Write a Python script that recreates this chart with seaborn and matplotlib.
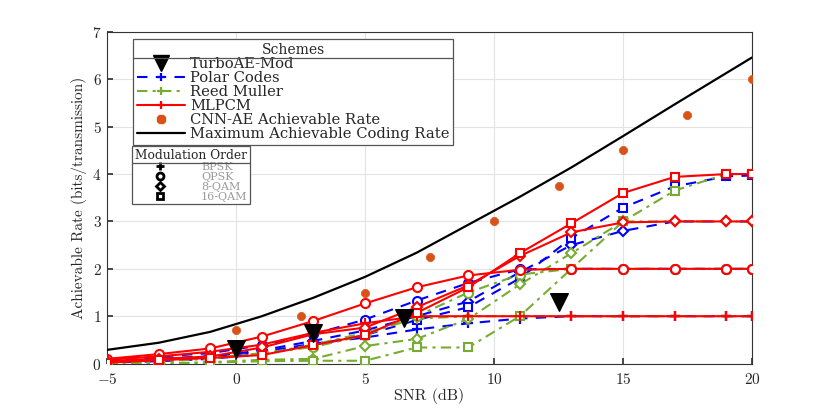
import numpy as np
import pandas as pd
import matplotlib
matplotlib.use("Agg")
import matplotlib.pyplot as plt
import seaborn as sns
from matplotlib.lines import Line2D

# ---------------- data ----------------
snr = [-5, -3, -1, 1, 3, 5, 7, 9, 11, 13, 15, 17, 19, 20]

polar_bpsk = [0.05, 0.10, 0.15, 0.25, 0.42, 0.55, 0.72, 0.85, 0.95, 1.0, 1.0, 1.0, 1.0, 1.0]
polar_qpsk = [0.08, 0.15, 0.22, 0.39, 0.62, 0.93, 1.33, 1.70, 1.99, 2.0, 2.0, 2.0, 2.0, 2.0]
polar_8qam = [0.05, 0.10, 0.15, 0.28, 0.48, 0.70, 1.00, 1.31, 1.93, 2.50, 2.80, 3.0, 3.0, 3.0]
polar_16qam = [0.02, 0.05, 0.10, 0.20, 0.40, 0.60, 0.92, 1.19, 1.80, 2.65, 3.29, 3.74, 3.95, 3.97]

rm_bpsk = [0.02, 0.05, 0.10, 0.20, 0.40, 0.65, 0.95, 1.0, 1.0, 1.0, 1.0, 1.0, 1.0, 1.0]
rm_qpsk = [0.02, 0.05, 0.12, 0.22, 0.35, 0.60, 1.00, 1.50, 1.88, 2.0, 2.0, 2.0, 2.0, 2.0]
rm_8qam = [0.0, 0.0, 0.03, 0.08, 0.10, 0.37, 0.52, 0.94, 1.67, 2.33, 3.0, 3.0, 3.0, 3.0]
rm_16qam = [0.0, 0.0, 0.02, 0.05, 0.06, 0.06, 0.34, 0.34, 1.0, 2.0, 3.0, 3.65, 4.0, 4.0]

mlpcm_bpsk = [0.08, 0.15, 0.25, 0.40, 0.65, 0.85, 1.0, 1.0, 1.0, 1.0, 1.0, 1.0, 1.0, 1.0]
mlpcm_qpsk = [0.10, 0.20, 0.32, 0.57, 0.90, 1.27, 1.61, 1.86, 1.98, 2.0, 2.0, 2.0, 2.0, 2.0]
mlpcm_8qam = [0.05, 0.10, 0.15, 0.34, 0.62, 0.76, 1.19, 1.65, 2.27, 2.77, 2.98, 3.0, 3.0, 3.0]
mlpcm_16qam = [0.02, 0.07, 0.12, 0.18, 0.39, 0.60, 1.07, 1.61, 2.33, 2.96, 3.60, 3.94, 4.0, 4.0]

turbo_snr = [0, 3, 6.5, 12.5]
turbo_rate = [0.30, 0.65, 0.97, 1.30]

cnn_snr = [0, 2.5, 5, 7.5, 10, 12.5, 15, 17.5, 20]
cnn_rate = [0.70, 1.00, 1.50, 2.25, 3.00, 3.75, 4.50, 5.25, 6.00]

max_snr = [-5, -3, -1, 1, 3, 5, 7, 9, 11, 13, 15, 17, 19, 20]
max_rate = [0.29, 0.44, 0.67, 1.00, 1.39, 1.83, 2.34, 2.93, 3.52, 4.14, 4.80, 5.47, 6.13, 6.46]

scheme_labels = ["TurboAE-Mod", "Polar Codes", "Reed Muller", "MLPCM",
                 "CNN-AE Achievable Rate", "Maximum Achievable Coding Rate"]
mod_labels = ["BPSK", "QPSK", "8-QAM", "16-QAM"]
x_ticks = [-5, 0, 5, 10, 15, 20]
y_ticks = [0, 1, 2, 3, 4, 5, 6, 7]

# ---------------- style ----------------
sns.set_theme(style="whitegrid")
plt.rcParams["font.family"] = ["cmr10", "DejaVu Serif"]
plt.rcParams["mathtext.fontset"] = "cm"
plt.rcParams["axes.formatter.use_mathtext"] = True

BLUE = "#0000FF"
GREEN = "#77AC30"
RED = "#FF0000"
ORANGE = "#D95319"

fig = plt.figure(figsize=(8.3, 4.09), dpi=100)
ax = fig.add_axes([0.129, 0.111, 0.777, 0.811])

mods = [("+", 7, 1.6), ("o", 6.5, 1.5), ("D", 5.5, 1.5), ("s", 5.5, 1.5)]
schemes = [
    (BLUE, (0, (5, 4)), [polar_bpsk, polar_qpsk, polar_8qam, polar_16qam]),
    (GREEN, (0, (5, 2.5, 1.5, 2.5)), [rm_bpsk, rm_qpsk, rm_8qam, rm_16qam]),
    (RED, "-", [mlpcm_bpsk, mlpcm_qpsk, mlpcm_8qam, mlpcm_16qam]),
]
for color, ls, series in schemes:
    for (mk, ms, mew), vals in zip(mods, series):
        df = pd.DataFrame({"snr": snr, "rate": vals})
        sns.lineplot(data=df, x="snr", y="rate", ax=ax, color=color,
                     linestyle=ls, linewidth=1.5, marker=mk, markersize=ms,
                     markerfacecolor="white", markeredgecolor=color,
                     markeredgewidth=mew, legend=False, zorder=3)

df_max = pd.DataFrame({"snr": max_snr, "rate": max_rate})
sns.lineplot(data=df_max, x="snr", y="rate", ax=ax, color="black",
             linewidth=1.6, legend=False, zorder=4)

df_cnn = pd.DataFrame({"snr": cnn_snr, "rate": cnn_rate})
sns.scatterplot(data=df_cnn, x="snr", y="rate", ax=ax, color=ORANGE,
                marker="8", s=34, edgecolor=ORANGE, linewidth=0.8, zorder=5,
                legend=False)

df_turbo = pd.DataFrame({"snr": turbo_snr, "rate": turbo_rate})
sns.scatterplot(data=df_turbo, x="snr", y="rate", ax=ax, color="black",
                marker="v", s=160, edgecolor="black", zorder=6, legend=False)

ax.set_xlim(-5, 20)
ax.set_ylim(0, 7)
ax.set_xticks(x_ticks)
ax.set_yticks(y_ticks)
ax.set_xlabel("SNR (dB)", fontsize=11.5, labelpad=1)
ax.set_ylabel("Achievable Rate (bits/transmission)", fontsize=11, labelpad=4)
ax.tick_params(axis="both", labelsize=11, direction="in", length=4,
               color="#333333", left=True, bottom=True)
ax.tick_params(axis="x", pad=6)
ax.tick_params(axis="y", pad=4)
ax.grid(True, color="#E3E3E3", linewidth=0.8)
for sp in ax.spines.values():
    sp.set_color("#333333")
    sp.set_linewidth(0.8)
ax.set_facecolor("white")

# ---------------- legends ----------------
LEGFONT = "DejaVu Serif"
h_scheme = [
    Line2D([], [], color="black", marker="v", linestyle="none", markersize=12),
    Line2D([], [], color=BLUE, linestyle=(0, (5, 4)), marker="+", markersize=6,
           markeredgewidth=1.6, linewidth=1.5),
    Line2D([], [], color=GREEN, linestyle=(0, (5, 2.5, 1.5, 2.5)), marker="+",
           markersize=6, markeredgewidth=1.6, linewidth=1.5),
    Line2D([], [], color=RED, linestyle="-", marker="+", markersize=6,
           markeredgewidth=1.6, linewidth=1.5),
    Line2D([], [], color=ORANGE, marker="8", linestyle="none", markersize=7),
    Line2D([], [], color="black", linewidth=1.6),
]
leg1 = ax.legend(h_scheme, scheme_labels, title="Schemes", loc="upper left",
                 bbox_to_anchor=(0.040, 0.978),
                 prop={"family": LEGFONT, "size": 10.6},
                 frameon=True, fancybox=False, edgecolor="#555555",
                 framealpha=1, handlelength=3.3, handletextpad=0.35,
                 labelspacing=0.0, borderpad=0.25, borderaxespad=0)
leg1.get_title().set_fontfamily(LEGFONT)
leg1.get_title().set_fontsize(10)
leg1.get_frame().set_linewidth(0.9)
ax.add_artist(leg1)

h_mod = [
    Line2D([], [], color="black", marker="+", linestyle="none", markersize=6,
           markeredgewidth=2),
    Line2D([], [], color="black", marker="o", linestyle="none", markersize=5,
           markerfacecolor="white", markeredgewidth=2),
    Line2D([], [], color="black", marker="D", linestyle="none", markersize=4.5,
           markerfacecolor="white", markeredgewidth=2),
    Line2D([], [], color="black", marker="s", linestyle="none", markersize=4.5,
           markerfacecolor="white", markeredgewidth=2),
]
leg2 = ax.legend(h_mod, mod_labels, title="Modulation Order", loc="upper left",
                 bbox_to_anchor=(0.039, 0.655),
                 prop={"family": LEGFONT, "size": 8.0},
                 frameon=True, fancybox=False, edgecolor="#555555",
                 framealpha=1, handlelength=4.6, handletextpad=1.4,
                 labelspacing=0.0, borderpad=0.2, borderaxespad=0)
leg2.get_title().set_fontfamily(LEGFONT)
leg2.get_title().set_fontsize(8.8)
leg2.get_frame().set_linewidth(0.9)
for t in leg2.get_texts():
    t.set_color("#9A9A9A")

# title separators (derived from rendered legend geometry)
fig.canvas.draw()
inv = fig.transFigure.inverted()
for leg in (leg1, leg2):
    fb = leg.get_frame().get_window_extent()
    tb = leg.get_title().get_window_extent()
    ysep = tb.y0 - 1.5
    (x0, y0), (x1, _) = inv.transform([(fb.x0, ysep), (fb.x1, ysep)])
    fig.add_artist(Line2D([x0, x1], [y0, y0], color="#555555", linewidth=0.9,
                          transform=fig.transFigure, zorder=10))

fig.savefig("out.png", dpi=100, facecolor="white")
